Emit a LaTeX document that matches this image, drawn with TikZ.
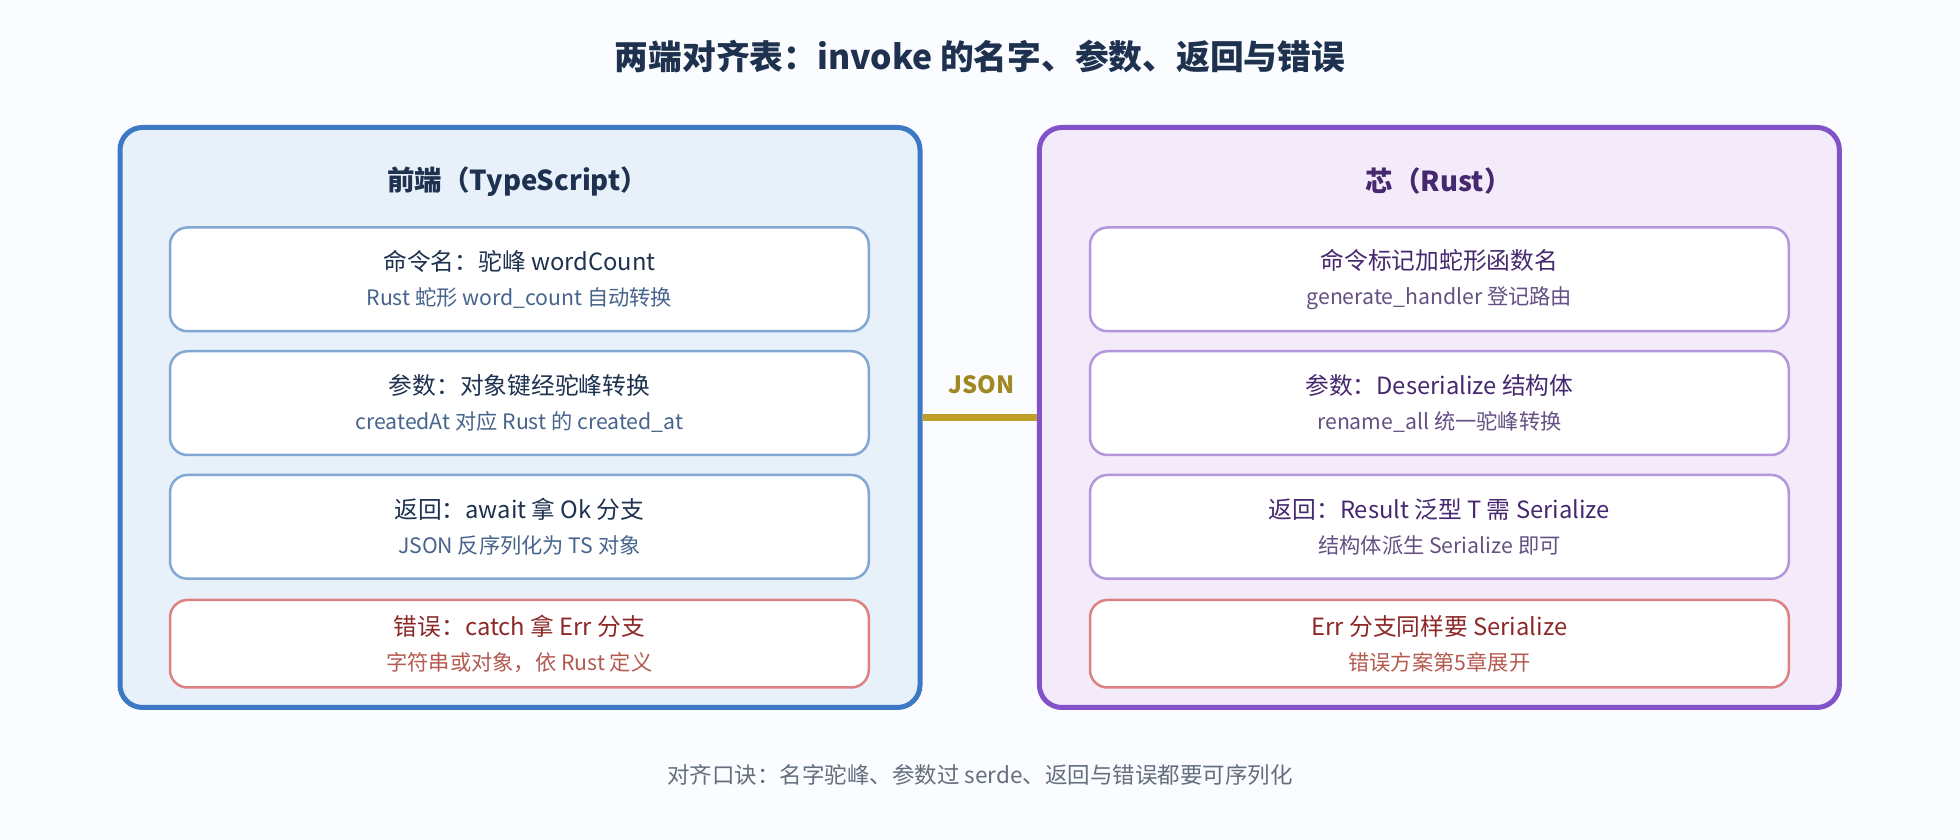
\documentclass[tikz,border=0pt]{standalone}
\usepackage{fontspec}
\setmainfont{Noto Sans CJK SC}
\usetikzlibrary{positioning}
\definecolor{bgpage}{RGB}{250,252,255}
\definecolor{frontline}{RGB}{60,120,196}
\definecolor{frontfill}{RGB}{232,240,250}
\definecolor{rustline}{RGB}{130,82,200}
\definecolor{rustfill}{RGB}{243,235,250}
\definecolor{frontbox}{RGB}{130,168,210}
\definecolor{rustbox}{RGB}{180,150,220}
\definecolor{errbox}{RGB}{220,130,130}
\definecolor{navy}{RGB}{30,50,80}
\definecolor{frontsub}{RGB}{70,100,140}
\definecolor{rusttext}{RGB}{70,40,110}
\definecolor{rustsub}{RGB}{100,80,130}
\definecolor{errtext}{RGB}{140,40,40}
\definecolor{errsub}{RGB}{180,90,80}
\definecolor{jsongold}{RGB}{190,160,40}
\definecolor{footgray}{RGB}{100,110,125}
\tikzset{
  panel/.style={draw, line width=2pt, rounded corners=9pt, minimum width=320pt, minimum height=232pt},
  item/.style={draw, line width=1pt, fill=white, rounded corners=7pt, minimum width=279.5pt, minimum height=41.5pt, align=center, inner sep=0pt},
}
\newcommand{\itemtext}[4]{{\fontsize{9.5}{11}\selectfont\color{#1}#3}\\[2pt]{\fontsize{8.5}{10}\selectfont\color{#2}#4}}
\begin{document}
\begin{tikzpicture}[x=0.5pt,y=0.5pt]
  \fill[bgpage] (0,0) rectangle (1568,672);
  \useasboundingbox (0,0) rectangle (1568,672);
  \node[text=navy, font=\bfseries\fontsize{13.5}{15}\selectfont] (title) at (784,627) {两端对齐表：invoke 的名字、参数、返回与错误};

  %% panels
  \node[panel, draw=frontline, fill=frontfill] (front) at (416,338) {};
  \node[panel, draw=rustline, fill=rustfill] (rust) at (1151.5,338) {};
  \node[text=navy, font=\bfseries\fontsize{11}{12}\selectfont] (fronthead) at (414,527) {前端（TypeScript）};
  \node[text=rusttext, font=\bfseries\fontsize{11}{12}\selectfont] (rusthead) at (1151,527) {芯（Rust）};

  %% front items
  \node[item, draw=frontbox] (f1) at (415.5,448.5) {\itemtext{navy}{frontsub}{命令名：驼峰 wordCount}{Rust 蛇形 word\_count 自动转换}};
  \node[item, draw=frontbox] (f2) at (415.5,349.5) {\itemtext{navy}{frontsub}{参数：对象键经驼峰转换}{createdAt 对应 Rust 的 created\_at}};
  \node[item, draw=frontbox] (f3) at (415.5,250.5) {\itemtext{navy}{frontsub}{返回：await 拿 Ok 分支}{JSON 反序列化为 TS 对象}};
  \node[item, draw=errbox, minimum height=35pt] (f4) at (415.5,157) {\itemtext{errtext}{errsub}{错误：catch 拿 Err 分支}{字符串或对象，依 Rust 定义}};

  %% rust items
  \node[item, draw=rustbox] (r1) at (1151.5,448.5) {\itemtext{rusttext}{rustsub}{命令标记加蛇形函数名}{generate\_handler 登记路由}};
  \node[item, draw=rustbox] (r2) at (1151.5,349.5) {\itemtext{rusttext}{rustsub}{参数：Deserialize 结构体}{rename\_all 统一驼峰转换}};
  \node[item, draw=rustbox] (r3) at (1151.5,250.5) {\itemtext{rusttext}{rustsub}{返回：Result 泛型 T 需 Serialize}{结构体派生 Serialize 即可}};
  \node[item, draw=errbox, minimum height=35pt] (r4) at (1151.5,157) {\itemtext{errtext}{errsub}{Err 分支同样要 Serialize}{错误方案第5章展开}};

  %% bridge
  \draw[jsongold, line width=2.5pt] (front.east |- 0,338) coordinate (jl) -- (rust.west |- 0,338) coordinate (jr);
  \node[text=jsongold!85!black, font=\bfseries\fontsize{9.5}{10}\selectfont, above=6pt of jl, xshift=23.5pt] (json) {JSON};

  \node[text=footgray, font=\fontsize{9}{10}\selectfont] (foot) at (784,52) {对齐口诀：名字驼峰、参数过 serde、返回与错误都要可序列化};
\end{tikzpicture}
\end{document}
